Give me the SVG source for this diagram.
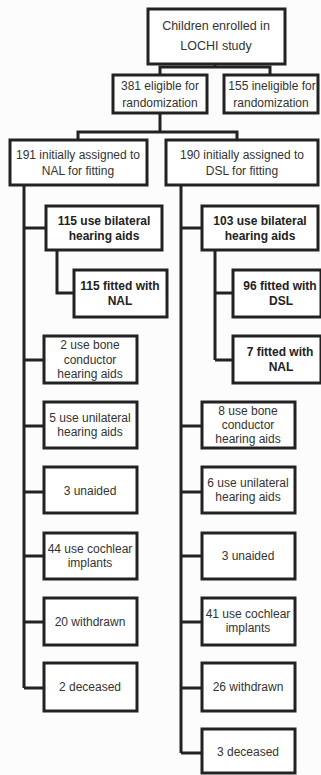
<svg xmlns="http://www.w3.org/2000/svg" width="321" height="775" viewBox="0 0 321 775">
<style>
.bx{fill:#fff;stroke:#222;stroke-width:3}
.ln{fill:none;stroke:#222;stroke-width:3}
text{font-family:"Liberation Sans",Arial,sans-serif;font-size:12px;fill:#333;text-anchor:middle;dominant-baseline:central}
.b{font-weight:bold;fill:#222}
.t{font-size:12.5px}
</style>
<rect x="0" y="0" width="321" height="775" fill="#fcfcfc"/>
<g id="connectors">
<path class="ln" d="M215 64V67M160 75V67H270V75"/>
<path class="ln" d="M160 113V132M78 140V132H237V140"/>
<path class="ln" d="M24 185V688M24 228H46M24 360H44M24 426H44M24 492H44M24 556H44M24 622H44M24 688H44"/>
<path class="ln" d="M57 250V293H74"/>
<path class="ln" d="M181 185V753M181 228H202M181 426H202M181 492H202M181 556H202M181 622H202M181 688H202M181 753H202"/>
<path class="ln" d="M215 250V360M215 293H233M215 360H233"/>
</g>
<g id="n-enrolled"><rect class="bx" x="148" y="9" width="137" height="55"/><text class="t" x="216" y="26">Children enrolled in</text><text class="t" x="216" y="46">LOCHI study</text></g>
<g id="n-eligible"><rect class="bx" x="113" y="75" width="94" height="38"/><text x="160" y="86">381 eligible for</text><text x="160" y="103">randomization</text></g>
<g id="n-ineligible"><rect class="bx" x="224" y="75" width="94" height="38"/><text x="272" y="86">155 ineligible for</text><text x="271" y="103">randomization</text></g>
<g id="n-nal"><rect class="bx" x="10" y="140" width="137" height="45"/><text x="78" y="155">191 initially assigned to</text><text x="78" y="171">NAL for fitting</text></g>
<g id="n-dsl"><rect class="bx" x="166" y="140" width="152" height="45"/><text x="242" y="155">190 initially assigned to</text><text x="242" y="171">DSL for fitting</text></g>
<g id="n-l-bilat"><rect class="bx" x="46" y="206" width="116" height="44"/><text class="b" x="104" y="221">115 use bilateral</text><text class="b" x="104" y="236">hearing aids</text></g>
<g id="n-l-fitnal"><rect class="bx" x="74" y="270" width="93" height="47"/><text class="b" x="120" y="286">115 fitted with</text><text class="b" x="120" y="301">NAL</text></g>
<g id="n-l-bone"><rect class="bx" x="44" y="336" width="93" height="47"/><text x="90" y="345">2 use bone</text><text x="90" y="360">conductor</text><text x="90" y="374">hearing aids</text></g>
<g id="n-l-uni"><rect class="bx" x="44" y="402" width="93" height="46"/><text x="90" y="418">5 use unilateral</text><text x="90" y="432">hearing aids</text></g>
<g id="n-l-unaided"><rect class="bx" x="44" y="467" width="93" height="46"/><text x="90" y="491">3 unaided</text></g>
<g id="n-l-ci"><rect class="bx" x="44" y="533" width="93" height="46"/><text x="90" y="549">44 use cochlear</text><text x="90" y="563">implants</text></g>
<g id="n-l-wd"><rect class="bx" x="44" y="598" width="93" height="47"/><text x="90" y="622">20 withdrawn</text></g>
<g id="n-l-dec"><rect class="bx" x="44" y="663" width="93" height="48"/><text x="90" y="687">2 deceased</text></g>
<g id="n-r-bilat"><rect class="bx" x="202" y="206" width="116" height="44"/><text class="b" x="260" y="221">103 use bilateral</text><text class="b" x="260" y="236">hearing aids</text></g>
<g id="n-r-fitdsl"><rect class="bx" x="233" y="270" width="88" height="47"/><text class="b" x="280" y="286">96 fitted with</text><text class="b" x="281" y="301">DSL</text></g>
<g id="n-r-fitnal"><rect class="bx" x="233" y="336" width="88" height="47"/><text class="b" x="280" y="352">7 fitted with</text><text class="b" x="281" y="367">NAL</text></g>
<g id="n-r-bone"><rect class="bx" x="202" y="402" width="93" height="46"/><text x="248" y="411">8 use bone</text><text x="248" y="425">conductor</text><text x="248" y="439">hearing aids</text></g>
<g id="n-r-uni"><rect class="bx" x="202" y="467" width="93" height="46"/><text x="248" y="483">6 use unilateral</text><text x="248" y="497">hearing aids</text></g>
<g id="n-r-unaided"><rect class="bx" x="202" y="533" width="93" height="46"/><text x="248" y="556">3 unaided</text></g>
<g id="n-r-ci"><rect class="bx" x="202" y="598" width="93" height="47"/><text x="248" y="614">41 use cochlear</text><text x="248" y="628">implants</text></g>
<g id="n-r-wd"><rect class="bx" x="202" y="663" width="93" height="48"/><text x="248" y="687">26 withdrawn</text></g>
<g id="n-r-dec"><rect class="bx" x="202" y="729" width="93" height="44"/><text x="248" y="752">3 deceased</text></g>
</svg>
